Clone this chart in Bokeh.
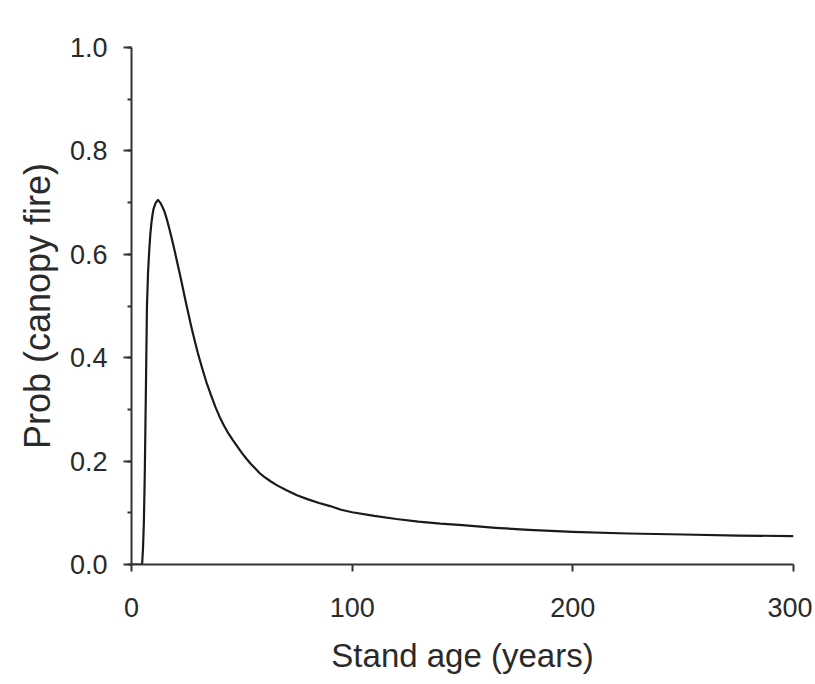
from bokeh.plotting import figure
from bokeh.models import Range1d, SingleIntervalTicker, PrintfTickFormatter
from bokeh.embed import file_html
from bokeh.resources import INLINE

# Data
stand_age = [0, 4.8, 5.2, 5.6, 6, 6.5, 7, 7.5, 8, 8.5, 9, 9.5, 10, 11, 12,
             13, 14, 15, 16, 17, 18, 19, 20, 21, 22, 23, 24, 25, 26, 27, 28, 29,
             30, 32, 34, 36, 38, 40, 42, 44, 46, 48, 50, 52, 54, 56, 58, 60, 63,
             66, 70, 75, 80, 85, 90, 95, 100, 110, 120, 130, 140, 150, 165, 180,
             200, 225, 250, 275, 300]
prob_canopy_fire = [0, 0, 0.03, 0.08, 0.17, 0.33, 0.50, 0.565, 0.605, 0.637, 0.66,
                    0.676, 0.688, 0.700, 0.705,
                    0.700, 0.692, 0.682, 0.668, 0.652, 0.635, 0.617, 0.598, 0.579,
                    0.560, 0.540, 0.520, 0.500, 0.481, 0.462, 0.444, 0.427,
                    0.410, 0.380, 0.352, 0.328, 0.305, 0.285, 0.268, 0.253, 0.240,
                    0.228, 0.216, 0.205, 0.195, 0.186, 0.177, 0.170, 0.161,
                    0.153, 0.144, 0.134, 0.126, 0.119, 0.113, 0.106, 0.101, 0.094,
                    0.088, 0.083, 0.079, 0.076, 0.071, 0.067,
                    0.063, 0.060, 0.058, 0.056, 0.055]

x_label = "Stand age (years)"
y_label = "Prob (canopy fire)"

FONT = "Liberation Sans"
TXT = "#2a2a2a"

p = figure(width=812, height=680, output_backend="svg", toolbar_location=None,
           x_range=Range1d(0, 300), y_range=Range1d(0, 1),
           min_border_left=131, min_border_right=19,
           min_border_top=47, min_border_bottom=116)
p.outline_line_color = None
p.xgrid.visible = False
p.ygrid.visible = False
p.background_fill_color = "white"
p.border_fill_color = "white"

p.line(stand_age, prob_canopy_fire, line_color="#1a1a1a", line_width=2.2,
       line_join="round")

xa = p.xaxis[0]
xa.ticker = SingleIntervalTicker(interval=100, num_minor_ticks=0)
ya = p.yaxis[0]
ya.ticker = SingleIntervalTicker(interval=0.2, num_minor_ticks=2)
ya.formatter = PrintfTickFormatter(format="%.1f")

for ax in (xa, ya):
    ax.axis_line_color = "#333333"
    ax.axis_line_width = 2
    ax.major_tick_line_color = "#333333"
    ax.major_tick_line_width = 2
    ax.minor_tick_line_color = "#333333"
    ax.minor_tick_line_width = 2
    ax.major_tick_in = 0
    ax.minor_tick_in = 0
    ax.major_label_text_font = FONT
    ax.major_label_text_font_size = "27px"
    ax.major_label_text_color = TXT
    ax.axis_label_text_font = FONT
    ax.axis_label_text_font_style = "normal"
    ax.axis_label_text_color = TXT

xa.major_tick_out = 7
xa.major_label_standoff = 26
xa.axis_label = x_label
xa.axis_label_text_font_size = "33px"
xa.axis_label_standoff = 17

ya.major_tick_out = 8
ya.minor_tick_out = 4
ya.major_label_standoff = 16
ya.axis_label = y_label
ya.axis_label_text_font_size = "36px"
ya.axis_label_standoff = 9

open("out.html", "w").write(file_html(p, INLINE))
